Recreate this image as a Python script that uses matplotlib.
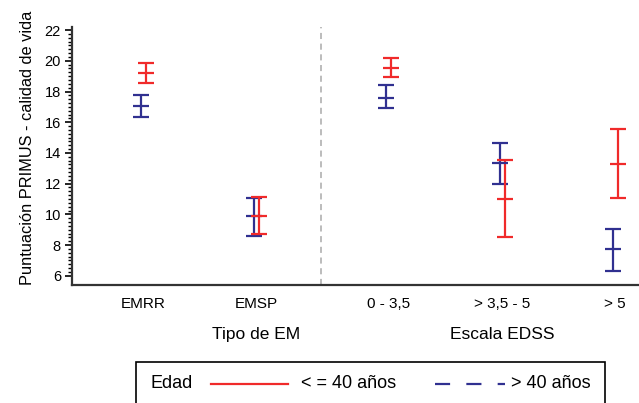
import numpy as np
import matplotlib
matplotlib.use("Agg")
import matplotlib.pyplot as plt
from matplotlib.lines import Line2D
from matplotlib.patches import Rectangle

plt.rcParams["font.family"] = ["Liberation Sans", "DejaVu Sans"]

# =========================================
# DATA
# =========================================
categories = ["EMRR", "EMSP", "0 - 3,5", "> 3,5 - 5", "> 5"]
group_names = ["Tipo de EM", "Escala EDSS"]
group_of = [0, 0, 1, 1, 1]

# <= 40 years (red)
young_mid = [19.19, 9.92, 19.56, 11.03, 13.31]
young_low = [18.58, 8.74, 18.95, 8.50, 11.07]
young_high = [19.83, 11.14, 20.17, 13.57, 15.53]

# > 40 years (blue)
old_mid = [17.08, 9.87, 17.60, 13.36, 7.72]
old_low = [16.36, 8.61, 16.90, 12.00, 6.34]
old_high = [17.75, 11.07, 18.41, 14.66, 9.07]

RED = "#f02a2a"
BLUE = "#303090"
GROUP_GAP = 0.17
OFFSET = 0.022

# =========================================
# PLOT
# =========================================
W, H = 639, 403
fig = plt.figure(figsize=(W / 100, H / 100), dpi=100)
ax = fig.add_axes([72 / W, 1 - 285 / H, 1 - 72 / W, (285 - 27) / H])

xpos = np.arange(len(categories)) + np.array(group_of) * GROUP_GAP


def draw(x, mid, low, high, color):
    mid = np.array(mid)
    yerr = [mid - np.array(low), np.array(high) - mid]
    ax.errorbar(x, mid, yerr=yerr, fmt="_", color=color, ecolor=color,
                markersize=12, markeredgewidth=1.6, elinewidth=1.6,
                capsize=6, capthick=1.6)


draw(xpos - OFFSET, old_mid, old_low, old_high, BLUE)
draw(xpos + OFFSET, young_mid, young_low, young_high, RED)

sep = (xpos[1] + xpos[2]) / 2 - 0.015
ax.axvline(sep, color="#aaaaaa", linestyle=(0, (4, 3)), linewidth=1.1)

ax.set_xlim(xpos[0] - 0.63, xpos[-1] + 0.21)
ax.set_ylim(5.4, 22.2)
ax.set_yticks(np.arange(6, 23, 2))
ax.set_yticks(np.arange(6, 22.01, 0.25), minor=True)
ax.set_xticks(xpos)
ax.set_xticklabels(categories, fontsize=11)
ax.tick_params(axis="x", length=0, pad=9)
ax.tick_params(axis="y", which="major", length=5, width=1.2, labelsize=10.5, pad=3)
ax.tick_params(axis="y", which="minor", length=3, width=1.0)

for side in ["top", "right"]:
    ax.spines[side].set_visible(False)
for side in ["left", "bottom"]:
    ax.spines[side].set_linewidth(1.6)
    ax.spines[side].set_color("#333333")

ax.set_ylabel("Puntuación PRIMUS - calidad de vida", fontsize=11.8)
ax.yaxis.set_label_coords(-0.066, 0.53)

# group labels under the category names
group_anchor = [1, 3]
for name, idx in zip(group_names, group_anchor):
    ax.text(xpos[idx], -0.19, name, transform=ax.get_xaxis_transform(),
            ha="center", va="center", fontsize=12.5)

# legend box
fig.patches.append(Rectangle((136 / W, -0.01), (605 - 136) / W, (403 - 362) / H + 0.01,
                             transform=fig.transFigure, fill=False,
                             edgecolor="black", linewidth=1.2))
ly = 1 - 384 / H
fig.text(150 / W, ly, "Edad", fontsize=13, va="center", ha="left")
fig.lines.append(Line2D([211 / W, 288 / W], [ly, ly], transform=fig.transFigure,
                        color=RED, linewidth=1.6))
fig.text(301 / W, ly, "< = 40 años", fontsize=13, va="center", ha="left")
fig.lines.append(Line2D([435 / W, 505 / W], [ly, ly], transform=fig.transFigure,
                        color=BLUE, linewidth=1.6, linestyle=(0, (6.8, 7.3))))
fig.text(511 / W, ly, "> 40 años", fontsize=13, va="center", ha="left")

plt.savefig("out.png", dpi=100)
